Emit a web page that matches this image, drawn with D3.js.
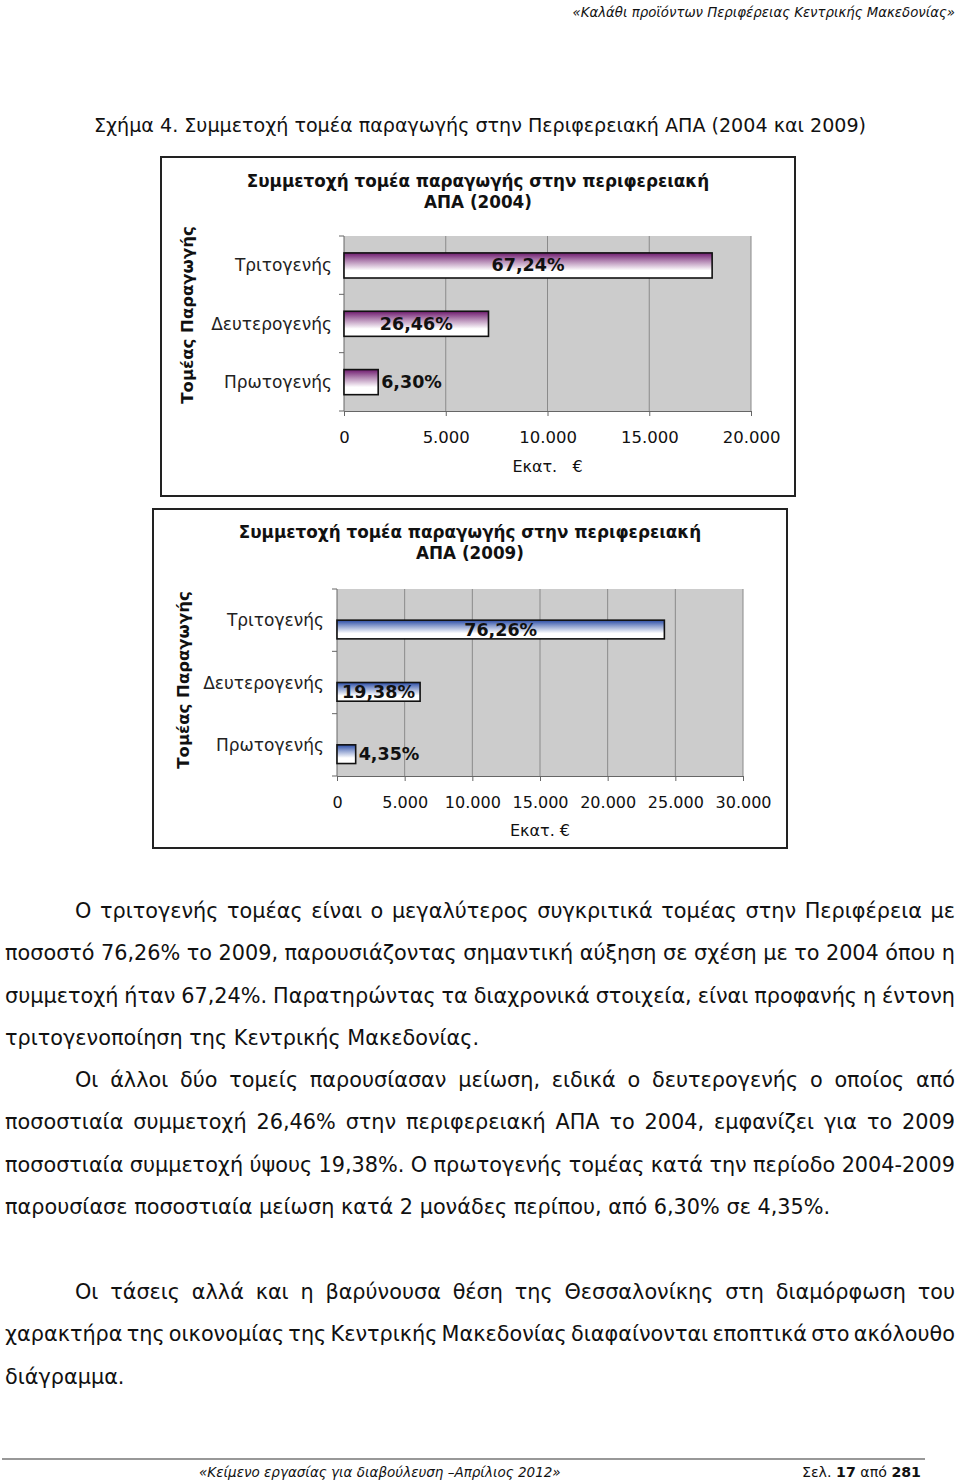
<!DOCTYPE html>
<html>
<head>
<meta charset="utf-8">
<script src="https://cdn.jsdelivr.net/npm/d3@7"></script>
<style>
  html, body { margin: 0; padding: 0; background: #fff; }
  svg { display: block; }
</style>
</head>
<body>
<svg id="page" width="960" height="1481"></svg>
<script>
// ---------------- DATA ----------------
const categories = ["Τριτογενής", "Δευτερογενής", "Πρωτογενής"];
const values2004 = [18090, 7100, 1680];          // Εκατ. €
const labels2004 = ["67,24%", "26,46%", "6,30%"];
const values2009 = [24190, 6140, 1380];
const labels2009 = ["76,26%", "19,38%", "4,35%"];
const ticks2004 = [0, 5000, 10000, 15000, 20000];
const ticks2009 = [0, 5000, 10000, 15000, 20000, 25000, 30000];
const title2004 = ["Συμμετοχή τομέα παραγωγής στην περιφερειακή", "ΑΠΑ (2004)"];
const title2009 = ["Συμμετοχή τομέα παραγωγής στην περιφερειακή", "ΑΠΑ (2009)"];
const yAxisTitle = "Τομέας Παραγωγής";
const xAxisTitle2004 = "Εκατ.\u00a0\u00a0 €";
const xAxisTitle2009 = "Εκατ. €";

const headerText = "«Καλάθι προϊόντων Περιφέρειας Κεντρικής Μακεδονίας»";
const captionText = "Σχήμα 4. Συμμετοχή τομέα παραγωγής στην Περιφερειακή ΑΠΑ (2004 και 2009)";
const paragraphs = [
  ["Ο τριτογενής τομέας είναι ο μεγαλύτερος συγκριτικά τομέας στην Περιφέρεια με",
   "ποσοστό 76,26% το 2009, παρουσιάζοντας σημαντική αύξηση σε σχέση με το 2004 όπου η",
   "συμμετοχή ήταν 67,24%. Παρατηρώντας τα διαχρονικά στοιχεία, είναι προφανής η έντονη",
   "τριτογενοποίηση της Κεντρικής Μακεδονίας."],
  ["Οι άλλοι δύο τομείς παρουσίασαν μείωση, ειδικά ο δευτερογενής ο οποίος από",
   "ποσοστιαία συμμετοχή 26,46% στην περιφερειακή ΑΠΑ το 2004, εμφανίζει για το 2009",
   "ποσοστιαία συμμετοχή ύψους 19,38%. Ο πρωτογενής τομέας κατά την περίοδο 2004-2009",
   "παρουσίασε ποσοστιαία μείωση κατά 2 μονάδες περίπου, από 6,30% σε 4,35%."],
  ["Οι τάσεις αλλά και η βαρύνουσα θέση της Θεσσαλονίκης στη διαμόρφωση του",
   "χαρακτήρα της οικονομίας της Κεντρικής Μακεδονίας διαφαίνονται εποπτικά στο ακόλουθο",
   "διάγραμμα."]
];
const footerLeft = "«Κείμενο εργασίας για διαβούλευση –Απρίλιος 2012»";

// ---------------- LAYOUT ----------------
const FONT = "'DejaVu Sans', Verdana, sans-serif";
const svg = d3.select("#page");
const defs = svg.append("defs");

const locale = d3.formatLocale({decimal: ",", thousands: ".", grouping: [3], currency: ["", "€"]});
const fmt = locale.format(",d");

function gradient(id, color) {
  const g = defs.append("linearGradient").attr("id", id)
    .attr("x1", 0).attr("y1", 0).attr("x2", 0).attr("y2", 1);
  g.append("stop").attr("offset", "0%").attr("stop-color", color);
  g.append("stop").attr("offset", "30%").attr("stop-color", d3.interpolateRgb(color, "#fff")(0.45));
  g.append("stop").attr("offset", "70%").attr("stop-color", "#fff");
  g.append("stop").attr("offset", "100%").attr("stop-color", "#fff");
}
gradient("gPurple", "#6e1a6e");
gradient("gBlue", "#2a4ca6");

// header
svg.append("text").attr("x", 955).attr("y", 17).attr("text-anchor", "end")
  .attr("font-family", FONT).attr("font-style", "italic").attr("font-size", 13.3)
  .attr("fill", "#111").text(headerText);

// caption
svg.append("text").attr("x", 94).attr("y", 132)
  .attr("font-family", FONT).attr("font-size", 19.1).attr("fill", "#111").text(captionText);

function drawChart(cfg) {
  const g = svg.append("g");
  g.append("rect").attr("x", cfg.box[0]).attr("y", cfg.box[1])
    .attr("width", cfg.box[2]).attr("height", cfg.box[3])
    .attr("fill", "#fff").attr("stroke", "#222").attr("stroke-width", 2);

  const x = d3.scaleLinear().domain([0, d3.max(cfg.ticks)]).range([cfg.plot.x0, cfg.plot.x1]);
  const y = d3.scaleBand().domain(cfg.categories).range([cfg.plot.y0, cfg.plot.y1]).padding(0);

  // plot area
  g.append("rect").attr("x", cfg.plot.x0).attr("y", cfg.plot.y0)
    .attr("width", cfg.plot.x1 - cfg.plot.x0).attr("height", cfg.plot.y1 - cfg.plot.y0)
    .attr("fill", "#cccccc");

  // gridlines
  g.selectAll(".grid").data(cfg.ticks.slice(1)).join("line")
    .attr("x1", d => x(d)).attr("x2", d => x(d))
    .attr("y1", cfg.plot.y0).attr("y2", cfg.plot.y1)
    .attr("stroke", "#8a8a8a").attr("stroke-width", 1);

  // x axis
  const xAxis = g.append("g").attr("transform", `translate(0,${cfg.plot.y1})`)
    .call(d3.axisBottom(x).tickValues(cfg.ticks).tickFormat(fmt).tickSizeInner(5).tickSizeOuter(0).tickPadding(0));
  xAxis.select(".domain").attr("stroke", "#666");
  xAxis.selectAll(".tick line").attr("stroke", "#666");
  xAxis.selectAll(".tick text").attr("font-family", FONT).attr("font-size", cfg.tickSize)
    .attr("fill", "#111").attr("dy", null).attr("y", cfg.tickBaseline - cfg.plot.y1);

  // y axis line + ticks at band boundaries
  g.append("line").attr("x1", cfg.plot.x0).attr("x2", cfg.plot.x0)
    .attr("y1", cfg.plot.y0).attr("y2", cfg.plot.y1).attr("stroke", "#666");
  const bounds = cfg.categories.map(c => y(c)).concat([cfg.plot.y1]);
  g.selectAll(".ytick").data(bounds).join("line")
    .attr("x1", cfg.plot.x0 - 5).attr("x2", cfg.plot.x0)
    .attr("y1", d => d).attr("y2", d => d).attr("stroke", "#666");

  // category labels
  g.selectAll(".cat").data(cfg.categories).join("text")
    .attr("x", cfg.catRight).attr("y", d => y(d) + y.bandwidth() / 2 + 6)
    .attr("text-anchor", "end").attr("font-family", FONT).attr("font-size", 17)
    .attr("fill", "#222").text(d => d);

  // bars
  const bw = y.bandwidth();
  g.selectAll(".bar").data(cfg.values).join("rect")
    .attr("x", x(0))
    .attr("y", (d, i) => y(cfg.categories[i]) + bw * cfg.barTop)
    .attr("width", d => x(d) - x(0))
    .attr("height", bw * (cfg.barBottom - cfg.barTop))
    .attr("fill", `url(#${cfg.grad})`).attr("stroke", "#111").attr("stroke-width", 1.6);

  // data labels
  g.selectAll(".lbl").data(cfg.values).join("text")
    .attr("font-family", FONT).attr("font-weight", "bold").attr("font-size", 17.5)
    .attr("fill", "#111")
    .attr("y", (d, i) => y(cfg.categories[i]) + bw * (cfg.barTop + cfg.barBottom) / 2 + 6)
    .text((d, i) => cfg.labels[i])
    .each(function (d) {
      const w = this.getComputedTextLength();
      const barW = x(d) - x(0);
      const t = d3.select(this);
      if (barW > w * 0.95) {
        t.attr("x", x(0) + barW / 2).attr("text-anchor", "middle");
      } else {
        t.attr("x", x(d) + 3).attr("text-anchor", "start");
      }
    });

  // title
  cfg.title.forEach((line, i) => {
    g.append("text").attr("x", cfg.titleX).attr("y", cfg.titleY[i])
      .attr("text-anchor", "middle").attr("font-family", FONT).attr("font-weight", "bold")
      .attr("font-size", 16.8).attr("fill", "#111").text(line);
  });

  // y axis title
  g.append("text")
    .attr("transform", `translate(${cfg.yTitleX},${cfg.yTitleY}) rotate(-90)`)
    .attr("text-anchor", "middle").attr("font-family", FONT).attr("font-weight", "bold")
    .attr("font-size", 16.5).attr("fill", "#111").text(yAxisTitle);

  // x axis title
  g.append("text").attr("x", (cfg.plot.x0 + cfg.plot.x1) / 2).attr("y", cfg.xTitleY)
    .attr("text-anchor", "middle").attr("font-family", FONT).attr("font-size", 16)
    .attr("fill", "#111").text(cfg.xTitle);
}

drawChart({
  box: [161, 157, 634, 339],
  plot: {x0: 344, x1: 751, y0: 236, y1: 411},
  ticks: ticks2004, categories, values: values2004, labels: labels2004,
  grad: "gPurple", barTop: 0.29, barBottom: 0.72, tickSize: 16.5,
  catRight: 332, tickBaseline: 443, xTitle: xAxisTitle2004, xTitleY: 472,
  title: title2004, titleX: 478, titleY: [187, 208],
  yTitleX: 193, yTitleY: 315
});

drawChart({
  box: [153, 509, 634, 339],
  plot: {x0: 337, x1: 743, y0: 589, y1: 776},
  ticks: ticks2009, categories, values: values2009, labels: labels2009,
  grad: "gBlue", barTop: 0.5, barBottom: 0.8, tickSize: 16,
  catRight: 324, tickBaseline: 808, xTitle: xAxisTitle2009, xTitleY: 836,
  title: title2009, titleX: 470, titleY: [538, 559],
  yTitleX: 189, yTitleY: 680
});

// ---------------- BODY TEXT (justified) ----------------
const BODY_SIZE = 20.8;
const leftX = 5, rightX = 955, indentX = 75;
const paraStart = [918, 1087, 1299];
const lineH = 42.3;

paragraphs.forEach((lines, p) => {
  lines.forEach((line, li) => {
    const yb = paraStart[p] + li * lineH;
    const x0 = li === 0 ? indentX : leftX;
    const last = li === lines.length - 1;
    const t = svg.append("text").attr("y", yb).attr("font-family", FONT)
      .attr("font-size", BODY_SIZE).attr("fill", "#111");
    if (last) {
      t.attr("x", x0).text(line);
      return;
    }
    const words = line.split(" ");
    const spans = words.map(w => t.append("tspan").text(w));
    const widths = spans.map(s => s.node().getComputedTextLength());
    const total = d3.sum(widths);
    const gap = (rightX - x0 - total) / (words.length - 1);
    let cx = x0;
    spans.forEach((s, i) => { s.attr("x", cx); cx += widths[i] + gap; });
  });
});

// ---------------- FOOTER ----------------
svg.append("line").attr("x1", 2).attr("x2", 925).attr("y1", 1459).attr("y2", 1459)
  .attr("stroke", "#333").attr("stroke-width", 1.2);
svg.append("text").attr("x", 199).attr("y", 1477).attr("font-family", FONT)
  .attr("font-style", "italic").attr("font-size", 13.5).attr("fill", "#111").text(footerLeft);
const fr = svg.append("text").attr("x", 921).attr("y", 1477).attr("text-anchor", "end")
  .attr("font-family", FONT).attr("font-size", 14.2).attr("fill", "#111");
fr.append("tspan").text("Σελ. ");
fr.append("tspan").attr("font-weight", "bold").text("17");
fr.append("tspan").text(" από ");
fr.append("tspan").attr("font-weight", "bold").text("281");
</script>
</body>
</html>
